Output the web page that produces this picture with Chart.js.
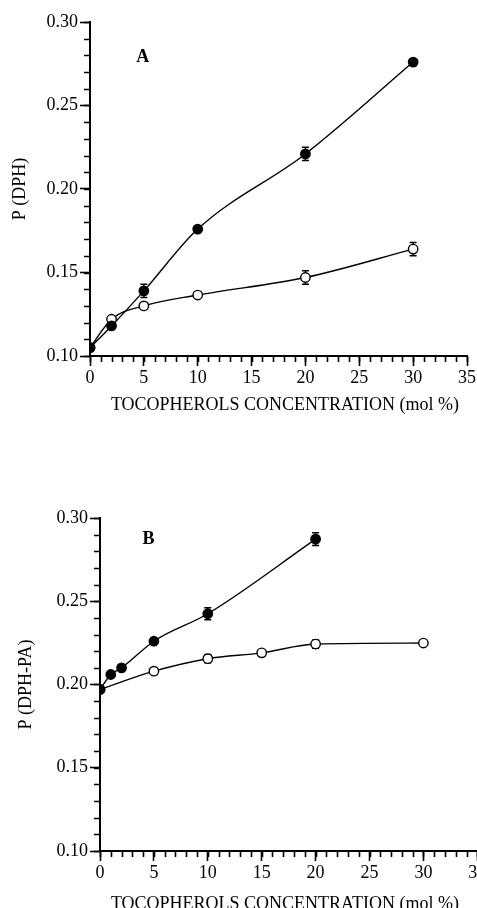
<!DOCTYPE html>
<html><head><meta charset="utf-8">
<script src="https://cdn.jsdelivr.net/npm/chart.js@4.4.1/dist/chart.umd.min.js"></script>
<style>
html,body{margin:0;padding:0;background:#fff;width:477px;height:908px;overflow:hidden;position:relative}
canvas{position:absolute;left:0}
#cA{top:0}
#cB{top:496px}
</style></head>
<body>
<canvas id="cA" width="477" height="440"></canvas>
<canvas id="cB" width="490" height="440"></canvas>
<script>
// ---- Panel A data: P (DPH) ----
const xA_filled = [0, 2, 5, 10, 20, 30];
const yA_filled = [0.105, 0.118, 0.139, 0.176, 0.221, 0.276];
const eA_filled = [0, 0, 0.004, 0, 0.004, 0.002];
const xA_open = [0, 2, 5, 10, 20, 30];
const yA_open = [0.105, 0.122, 0.130, 0.1365, 0.147, 0.164];
const eA_open = [0, 0, 0, 0, 0.004, 0.004];
// ---- Panel B data: P (DPH-PA) ----
const xB_filled = [0, 1, 2, 5, 10, 20];
const yB_filled = [0.197, 0.206, 0.210, 0.226, 0.2425, 0.2873];
const eB_filled = [0, 0, 0, 0, 0.0036, 0.0038];
const xB_open = [0, 5, 10, 15, 20, 30];
const yB_open = [0.197, 0.208, 0.2155, 0.219, 0.2243, 0.2249];
const eB_open = [0, 0, 0.0025, 0, 0.0025, 0];
// ---- axes / labels ----
const xMin = 0, xMax = 35, xStep = 5, xMinor = 1;
const yMin = 0.10, yMax = 0.30, yStep = 0.05, yMinor = 0.01;
const xTitle = 'TOCOPHEROLS CONCENTRATION (mol %)';
const yTitleA = 'P (DPH)';
const yTitleB = 'P (DPH-PA)';
const panelA = {text: 'A', x: 4.9, y: 0.279};
const panelB = {text: 'B', x: 4.5, y: 0.2873};

const FONT = '"Liberation Serif", "Times New Roman", serif';
const FS = 18;

function pts(xs, ys) { return xs.map((x, i) => ({x: x, y: ys[i]})); }

const errorBars = {
  id: 'errorBars',
  beforeDatasetsDraw(chart) {
    const ctx = chart.ctx, xs = chart.scales.x, ys = chart.scales.y;
    ctx.save();
    ctx.strokeStyle = '#000';
    ctx.lineWidth = 1.5;
    chart.data.datasets.forEach(ds => {
      (ds.err || []).forEach((e, i) => {
        if (!e) return;
        const p = ds.data[i];
        const px = xs.getPixelForValue(p.x);
        const y1 = ys.getPixelForValue(p.y + e), y2 = ys.getPixelForValue(p.y - e);
        ctx.beginPath();
        ctx.moveTo(px, y1); ctx.lineTo(px, y2);
        ctx.moveTo(px - 3.5, y1); ctx.lineTo(px + 3.5, y1);
        ctx.moveTo(px - 3.5, y2); ctx.lineTo(px + 3.5, y2);
        ctx.stroke();
      });
    });
    ctx.restore();
  }
};

const extras = {
  id: 'extras',
  afterDraw(chart, args, opts) {
    const ctx = chart.ctx, xs = chart.scales.x, ys = chart.scales.y;
    ctx.save();
    ctx.strokeStyle = '#000';
    ctx.lineWidth = 1.6;
    // minor ticks
    ctx.beginPath();
    for (let v = yMin; v <= yMax + 1e-9; v += yMinor) {
      const py = Math.round(ys.getPixelForValue(v)) + 0.5;
      ctx.moveTo(xs.left, py); ctx.lineTo(xs.left - 6, py);
    }
    for (let v = xMin; v <= xMax + 1e-9; v += xMinor) {
      const px = Math.round(xs.getPixelForValue(v)) + 0.5;
      ctx.moveTo(px, ys.bottom); ctx.lineTo(px, ys.bottom + 6);
    }
    ctx.stroke();
    // panel letter
    ctx.fillStyle = '#000';
    ctx.font = 'bold 18px ' + FONT;
    ctx.textAlign = 'center';
    ctx.textBaseline = 'middle';
    ctx.fillText(opts.letter.text, xs.getPixelForValue(opts.letter.x), ys.getPixelForValue(opts.letter.y));
    // x title
    ctx.font = FS + 'px ' + FONT;
    ctx.fillText(xTitle, opts.titleX, chart.chartArea.bottom + opts.titleDy);
    ctx.restore();
  }
};

function makeChart(id, d, cfg) {
  const common = {
    borderColor: '#000', borderWidth: 1.4, pointRadius: 4.7, pointBorderWidth: 1.4,
    pointBorderColor: '#000', cubicInterpolationMode: 'monotone', fill: false, showLine: true
  };
  return new Chart(document.getElementById(id), {
    type: 'line',
    data: {
      datasets: [
        Object.assign({data: pts(d.xf, d.yf), err: d.ef, pointBackgroundColor: '#000'}, common),
        Object.assign({data: pts(d.xo, d.yo), err: d.eo, pointBackgroundColor: '#fff'}, common)
      ]
    },
    options: {
      responsive: false, animation: false, devicePixelRatio: 1,
      layout: {padding: {top: 22, right: cfg.padRight, left: 0, bottom: 0}},
      plugins: {legend: {display: false}, tooltip: {enabled: false}, extras: cfg.extras},
      scales: {
        x: {
          type: 'linear', min: xMin, max: xMax,
          afterFit(s) { s.height = cfg.xh; },
          border: {display: true, color: '#000', width: 2},
          grid: {display: true, drawOnChartArea: false, drawTicks: true, tickLength: 10, tickWidth: 1.6, tickColor: '#000'},
          ticks: {stepSize: xStep, color: '#000', font: {family: FONT, size: FS}, padding: 1, maxRotation: 0, autoSkip: false}
        },
        y: {
          type: 'linear', min: yMin, max: yMax,
          afterFit(s) { s.width = cfg.yw; },
          border: {display: true, color: '#000', width: 2},
          grid: {display: true, drawOnChartArea: false, drawTicks: true, tickLength: 10, tickWidth: 1.6, tickColor: '#000'},
          ticks: {stepSize: yStep, color: '#000', font: {family: FONT, size: FS}, padding: 2,
                  callback: v => Number(v).toFixed(2)},
          title: {display: true, text: cfg.yTitle, color: '#000', font: {family: FONT, size: FS}, padding: {top: cfg.yTitlePad, bottom: 0}}
        }
      }
    },
    plugins: [errorBars, extras]
  });
}

makeChart('cA', {xf: xA_filled, yf: yA_filled, ef: eA_filled, xo: xA_open, yo: yA_open, eo: eA_open},
  {padRight: 10, xh: 84, yw: 90, yTitle: yTitleA, yTitlePad: 9.2,
   extras: {letter: panelA, titleX: 285, titleDy: 49}});
makeChart('cB', {xf: xB_filled, yf: yB_filled, ef: eB_filled, xo: xB_open, yo: yB_open, eo: eB_open},
  {padRight: 12.7, xh: 85, yw: 100, yTitle: yTitleB, yTitlePad: 15.2,
   extras: {letter: panelB, titleX: 285, titleDy: 53}});
</script>
</body></html>
